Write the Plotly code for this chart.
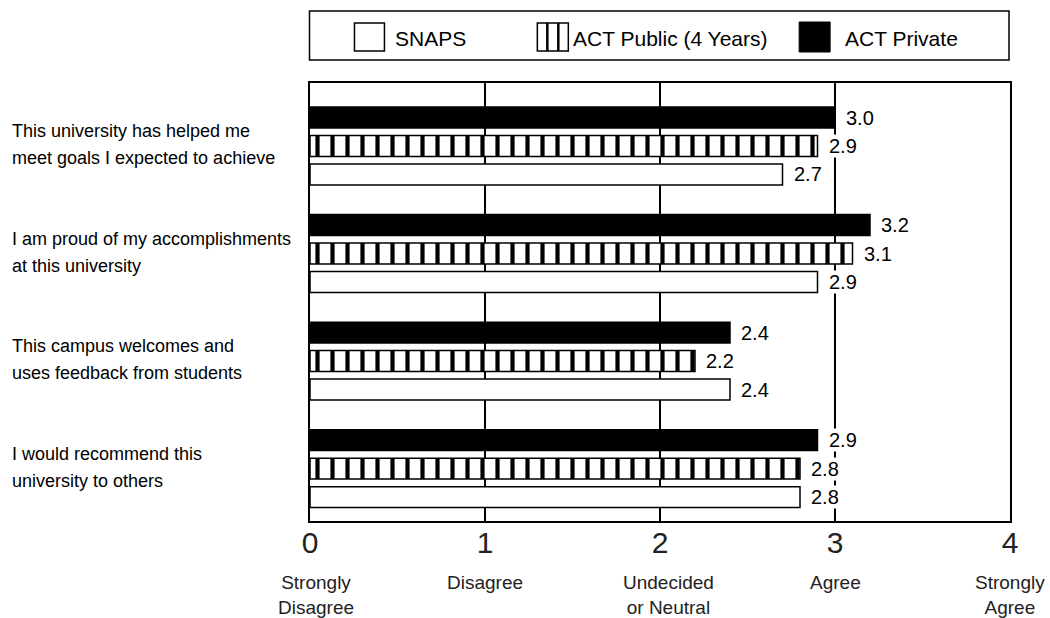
import plotly.graph_objects as go

# Survey statements (each split into its two display lines)
statements = [
    ["This university has helped me", "meet goals I expected to achieve"],
    ["I am proud of my accomplishments", "at this university"],
    ["This campus welcomes and", "uses feedback from students"],
    ["I would recommend this", "university to others"],
]

# Mean agreement scores (0 = Strongly Disagree ... 4 = Strongly Agree)
snaps = [2.7, 2.9, 2.4, 2.8]
act_public = [2.9, 3.1, 2.2, 2.8]
act_private = [3.0, 3.2, 2.4, 2.9]

series_names = ["SNAPS", "ACT Public (4 Years)", "ACT Private"]

scale_values = [0, 1, 2, 3, 4]
scale_numbers = ["0", "1", "2", "3", "4"]
scale_words = ["Strongly<br>Disagree", "Disagree", "Undecided<br>or Neutral",
               "Agree", "Strongly<br>Agree"]

FONT = "Liberation Sans, Arial, Helvetica, sans-serif"

# Figure geometry (pixels)
W, H = 1050, 618
L, R, T, B = 309.5, 40, 83, 97
PW, PH = W - L - R, H - T - B

BARGAP = 0.205
BARGROUPGAP = 0.27

ypos = list(range(len(statements)))

# Draw order puts ACT Private on top of each group (y axis is reversed)
traces = [
    (act_private, dict(color="black", line=dict(color="black", width=1.5))),
    (act_public, dict(color="white", line=dict(color="black", width=1.5),
                      pattern=dict(shape="|", fgcolor="black", bgcolor="white",
                                   fgopacity=1, size=15, solidity=0.28,
                                   fillmode="replace"))),
    (snaps, dict(color="white", line=dict(color="black", width=1.5))),
]

fig = go.Figure()
for vals, marker in traces:
    fig.add_trace(go.Bar(x=vals, y=ypos, orientation="h", marker=marker,
                         showlegend=False, hoverinfo="x"))

# Value labels next to each bar
slot = (1 - BARGAP) / 3
annotations = []
for k, vals in enumerate([act_private, act_public, snaps]):
    off = (k - 1) * slot
    for i, v in enumerate(vals):
        annotations.append(dict(
            x=v, y=i + off, xref="x", yref="y", text=f"{v:.1f}",
            xanchor="left", yanchor="middle", xshift=10, showarrow=False,
            bgcolor="white", borderpad=0,
            font=dict(family=FONT, size=20, color="black")))

# Statement labels, left aligned at the page edge
for i, lines in enumerate(statements):
    for j, line in enumerate(lines):
        annotations.append(dict(
            x=(9 - L) / PW, y=i, xref="paper", yref="y", text=line,
            xanchor="left", yanchor="middle", yshift=15 - 27 * j,
            showarrow=False,
            font=dict(family=FONT, size=18, color="black")))

# Verbal scale anchors below the numeric ticks
word_shift = [6, 0, 8, 0, 0]
for v, word, dx in zip(scale_values, scale_words, word_shift):
    annotations.append(dict(
        x=v, y=0, xref="x", yref="paper", text=word, xanchor="center",
        yanchor="top", yshift=-49, xshift=dx, showarrow=False, align="center",
        font=dict(family=FONT, size=19, color="#222")))


# Legend box drawn by hand so its swatches are large
def px(x):
    return (x - L) / PW


def py(y):
    return (H - B - y) / PH


shapes = [
    dict(type="rect", xref="paper", yref="paper", x0=px(309), x1=px(1009),
         y0=py(11), y1=py(60), line=dict(color="black", width=1.5),
         fillcolor="white", layer="above"),
    dict(type="rect", xref="paper", yref="paper", x0=px(354), x1=px(384),
         y0=py(23), y1=py(51), line=dict(color="black", width=1.5),
         fillcolor="white"),
    dict(type="rect", xref="paper", yref="paper", x0=px(537), x1=px(568),
         y0=py(23), y1=py(51), line=dict(color="black", width=1.5),
         fillcolor="white"),
    dict(type="rect", xref="paper", yref="paper", x0=px(799), x1=px(830),
         y0=py(22), y1=py(52), line=dict(color="black", width=1),
         fillcolor="black"),
]
for sx in (547, 558):
    shapes.append(dict(type="line", xref="paper", yref="paper", x0=px(sx),
                       x1=px(sx), y0=py(23), y1=py(51),
                       line=dict(color="black", width=2.5)))

for name, tx in zip(series_names, (393, 571, 843)):
    annotations.append(dict(
        x=px(tx), y=py(38), xref="paper", yref="paper", text=name,
        xanchor="left", yanchor="middle", showarrow=False,
        font=dict(family=FONT, size=21, color="black")))

fig.update_layout(
    width=W, height=H,
    margin=dict(l=L, r=R, t=T, b=B),
    paper_bgcolor="white", plot_bgcolor="white",
    barmode="group", bargap=BARGAP, bargroupgap=BARGROUPGAP,
    annotations=annotations, shapes=shapes,
    xaxis=dict(range=[0, 4], tickvals=scale_values, ticktext=scale_numbers,
               showgrid=True, gridcolor="black", gridwidth=1.5,
               showline=True, linecolor="black", linewidth=1.5, mirror=True,
               ticks="", zeroline=False, ticklabelstandoff=-6,
               tickfont=dict(family=FONT, size=30, color="#222")),
    yaxis=dict(range=[3.488, -0.586], showticklabels=False, showgrid=False,
               showline=True, linecolor="black", linewidth=1.5, mirror=True,
               ticks="", zeroline=False),
)

fig.write_html("out.html")
